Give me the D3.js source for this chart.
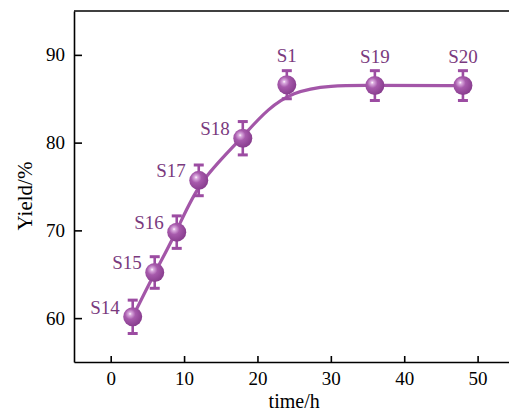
<!DOCTYPE html>
<html lang='en'>
<head>
    <meta charset='utf-8'>
    <title>Yield vs time</title>
    <script src="https://d3js.org/d3.v7.min.js"></script>
    <style>
        body { margin: 0; background: white; }
        text { font-family: "Liberation Serif", "Times New Roman", serif; }
        .axis path, .axis line { stroke: black; stroke-width: 1.6px; }
        .axis text { font-size: 19px; fill: black; }
    </style>
</head>
<body>
    <div id='chart'></div>
    <script>
        // samples and readings
        const sampleNames = ['S14', 'S15', 'S16', 'S17', 'S18', 'S1', 'S19', 'S20'];
        const times = [3, 6, 9, 12, 18, 24, 36, 48];
        const yields = [60.15, 65.2, 69.8, 75.7, 80.5, 86.6, 86.5, 86.5];
        const errors = [1.9, 1.8, 1.85, 1.75, 1.9, 1.6, 1.7, 1.7];
        const labelSide = ['left', 'left', 'left', 'left', 'left', 'top', 'top', 'top'];
        const xTicks = [0, 10, 20, 30, 40, 50];
        const yTicks = [60, 70, 80, 90];

        let size = {width: 509, height: 412};
        let margin = {top: 11, left: 74, bottom: 50};

        const purple = '#a356a8';
        const labelColor = '#7a3a7e';

        let svg = d3.select('#chart')
                    .append('svg')
                        .attr('width', size.width)
                        .attr('height', size.height);

        // sphere look for the markers
        let grad = svg.append('defs')
                      .append('radialGradient')
                        .attr('id', 'ball')
                        .attr('cx', '38%').attr('cy', '38%').attr('r', '65%')
                        .attr('fx', '36%').attr('fy', '34%');
        grad.append('stop').attr('offset', '0%').attr('stop-color', '#ffffff');
        grad.append('stop').attr('offset', '12%').attr('stop-color', '#dcaee0');
        grad.append('stop').attr('offset', '42%').attr('stop-color', '#a75aac');
        grad.append('stop').attr('offset', '100%').attr('stop-color', '#873c8d');

        // right end runs past the window edge, like the reference
        let x = d3.scaleLinear()
                  .domain([-5, 55])
                  .range([margin.left, 514.3]);

        let y = d3.scaleLinear()
                  .domain([55, 95])
                  .range([size.height - margin.bottom, margin.top]);

        let bottom = size.height - margin.bottom;

        svg.append('g')
            .attr('class', 'axis')
            .attr('transform', `translate(0,${bottom})`)
            .call(d3.axisBottom(x).tickValues(xTicks).tickSize(-6).tickPadding(10).tickSizeOuter(0));

        svg.append('g')
            .attr('class', 'axis')
            .attr('transform', `translate(${margin.left},0)`)
            .call(d3.axisLeft(y).tickValues(yTicks).tickSize(-8).tickPadding(9).tickSizeOuter(0));

        // frame top
        svg.append('line')
            .attr('x1', margin.left).attr('x2', x(55))
            .attr('y1', y(95)).attr('y2', y(95))
            .attr('stroke', 'black').attr('stroke-width', 1.6);

        svg.append('text')
            .attr('x', x(25))
            .attr('y', 408)
            .attr('text-anchor', 'middle')
            .style('font-size', '20px')
            .text('time/h');

        svg.append('text')
            .attr('transform', 'rotate(-90)')
            .attr('x', -196)
            .attr('y', 32)
            .attr('text-anchor', 'middle')
            .style('font-size', '21px')
            .text('Yield/%');

        let pts = times.map((t, i) => ({t: t, v: yields[i], e: errors[i], name: sampleNames[i], side: labelSide[i]}));

        // smoothed trend line
        svg.append('path')
            .datum(pts)
            .attr('fill', 'none')
            .attr('stroke', purple)
            .attr('stroke-width', 3.2)
            .attr('d', d3.line().curve(d3.curveBasis).x(d => x(d.t)).y(d => y(d.v)));

        // error bars
        let eb = svg.append('g').attr('stroke', '#9c4ca2').attr('stroke-width', 2.6);
        eb.selectAll('.bar').data(pts).enter().append('line')
            .attr('x1', d => x(d.t)).attr('x2', d => x(d.t))
            .attr('y1', d => y(d.v + d.e)).attr('y2', d => y(d.v - d.e));
        eb.selectAll('.capTop').data(pts).enter().append('line')
            .attr('x1', d => x(d.t) - 5).attr('x2', d => x(d.t) + 5)
            .attr('y1', d => y(d.v + d.e)).attr('y2', d => y(d.v + d.e))
            .attr('stroke-width', 3);
        eb.selectAll('.capBot').data(pts).enter().append('line')
            .attr('x1', d => x(d.t) - 5).attr('x2', d => x(d.t) + 5)
            .attr('y1', d => y(d.v - d.e)).attr('y2', d => y(d.v - d.e))
            .attr('stroke-width', 3);

        svg.append('g')
            .selectAll('circle')
            .data(pts)
            .enter()
            .append('circle')
                .attr('cx', d => x(d.t))
                .attr('cy', d => y(d.v))
                .attr('r', 9.5)
                .attr('fill', 'url(#ball)');

        svg.append('g')
            .selectAll('text')
            .data(pts)
            .enter()
            .append('text')
                .attr('x', d => d.side == 'left' ? x(d.t) - 13 : x(d.t))
                .attr('y', d => d.side == 'left' ? y(d.v) - 3 : y(d.v) - 23)
                .attr('text-anchor', d => d.side == 'left' ? 'end' : 'middle')
                .attr('fill', labelColor)
                .style('font-size', '19px')
                .text(d => d.name);
    </script>
</body>
</html>
